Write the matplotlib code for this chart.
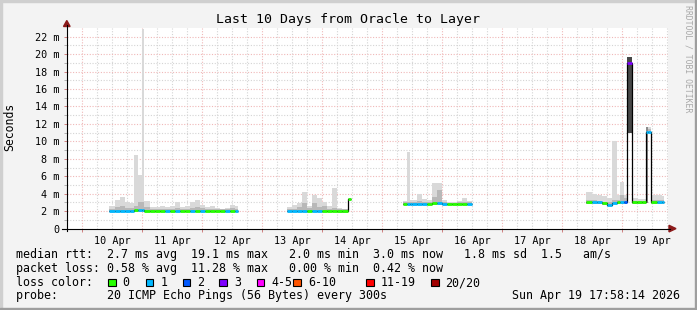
import matplotlib
matplotlib.use("Agg")
import matplotlib.pyplot as plt
from matplotlib.transforms import IdentityTransform
from matplotlib.patches import Polygon, Rectangle
from matplotlib.lines import Line2D
import numpy as np

plt.rcParams['font.family'] = 'DejaVu Sans Mono'

W, H = 697, 310

# smoke columns, start hour counted from 10 Apr 00:00
hour = [10.8, 13, 15, 17, 19, 20.8, 22.4, 23.9, 24.7, 27, 29, 31, 33, 35, 37, 39, 41, 43, 45, 47, 49, 51, 53, 55, 57, 59, 61,
        82, 84, 86, 88, 90, 92, 94, 96, 98, 100, 102, 104, 106.4,
        128.4, 130, 131, 132, 134, 136, 138, 140, 142, 144, 146, 148, 150, 152, 154,
        201.6, 204, 206, 208, 210, 212, 214, 215.2, 216.8, 218, 220, 222, 224, 225.6, 226.4, 227.6, 230, 232]
seg_end = [62.4, 107.6, 156.0, 232.8]

# ms values
p_lo = [1.85, 1.85, 1.85, 1.85, 1.85, 1.85, 1.9, 1.9, 1.85, 1.85, 1.85, 1.85, 1.85, 1.85, 1.85, 1.85, 1.85, 1.85, 1.85, 1.85, 1.85, 1.85, 1.85, 1.85, 1.85, 1.85, 1.85,
        1.85, 1.85, 1.85, 1.85, 1.85, 1.85, 1.85, 1.85, 1.85, 1.85, 1.8, 1.8, 3.3,
        2.65, 2.65, 2.65, 2.65, 2.65, 2.65, 2.65, 2.65, 2.65, 2.65, 2.65, 2.65, 2.65, 2.65, 2.65,
        2.85, 2.85, 2.85, 2.75, 2.55, 2.8, 2.85, 2.85, 2.85, 11.0, 2.85, 2.85, 2.85, 2.9, 11.0, 2.85, 2.85, 2.85]
p_mid = [2.3, 2.5, 2.6, 2.4, 2.4, 2.6, 3.0, 3.0, 2.5, 2.3, 2.3, 2.3, 2.3, 2.3, 2.4, 2.3, 2.3, 2.4, 2.5, 2.4, 2.3, 2.3, 2.25, 2.2, 2.25, 2.35, 2.3,
         2.2, 2.3, 2.5, 2.9, 2.4, 2.9, 2.5, 2.6, 2.3, 2.4, 2.2, 2.2, 3.45,
         3.0, 3.1, 3.0, 3.0, 3.2, 3.1, 3.0, 3.6, 4.4, 3.0, 2.95, 2.95, 3.0, 3.1, 3.0,
         3.3, 3.3, 3.2, 3.1, 3.0, 3.3, 3.3, 3.9, 3.5, 19.7, 3.2, 3.2, 3.2, 11.6, 11.4, 3.3, 3.3, 3.3]
p_hi = [2.6, 3.3, 3.6, 3.0, 2.9, 8.4, 6.1, 22.9, 3.2, 2.5, 2.5, 2.6, 2.5, 2.6, 3.0, 2.5, 2.6, 3.1, 3.3, 2.7, 2.5, 2.6, 2.4, 2.3, 2.4, 2.7, 2.6,
        2.5, 2.7, 2.9, 4.2, 2.6, 3.9, 3.5, 3.0, 2.6, 4.6, 2.4, 2.3, 3.5,
        3.2, 8.8, 3.3, 3.3, 4.0, 3.4, 3.3, 5.2, 5.2, 3.3, 3.1, 3.1, 3.2, 3.5, 3.2,
        4.2, 4.0, 3.8, 3.7, 3.5, 10.0, 3.8, 5.3, 3.9, 19.7, 3.5, 3.4, 3.4, 11.6, 11.6, 3.9, 3.8, 3.7]
median = [2.05, 2.05, 2.05, 2.05, 2.05, 2.1, 2.15, 2.15, 2.05, 2.05, 2.05, 2.05, 2.05, 2.05, 2.05, 2.05, 2.05, 2.05, 2.05, 2.05, 2.05, 2.05, 2.05, 2.05, 2.05, 2.05, 2.05,
          2.05, 2.05, 2.05, 2.05, 2.05, 2.05, 2.05, 2.05, 2.05, 2.05, 2.0, 2.0, 3.4,
          2.85, 2.85, 2.85, 2.85, 2.85, 2.85, 2.85, 2.9, 2.9, 2.85, 2.85, 2.85, 2.85, 2.85, 2.85,
          3.0, 3.0, 3.0, 2.9, 2.7, 2.95, 3.0, 3.05, 3.1, 19.0, 3.0, 3.0, 3.0, 11.1, 11.1, 3.0, 3.0, 3.0]
# lost pings out of 20
loss = [1, 1, 1, 1, 1, 0, 1, 1, 0, 0, 0, 0, 1, 0, 1, 0, 0, 1, 0, 1, 0, 0, 0, 0, 1, 0, 1,
        1, 1, 1, 1, 0, 1, 1, 0, 0, 0, 0, 0, 0,
        0, 1, 1, 1, 1, 1, 0, 0, 1, 1, 0, 0, 0, 0, 1,
        0, 1, 1, 0, 1, 1, 0, 1, 2, 3, 0, 0, 0, 1, 1, 0, 1, 1]
dense = [218, 225.6]

day_labels = ['10 Apr', '11 Apr', '12 Apr', '13 Apr', '14 Apr', '15 Apr', '16 Apr', '17 Apr', '18 Apr', '19 Apr']
loss_names = ['0', '1', '2', '3', '4-5', '6-10', '11-19', '20/20']
loss_colors = ['#26ff00', '#00b8ff', '#0059ff', '#7e00ff', '#ff00ff', '#ff5500', '#ff0000', '#a10000']


def loss_color(n):
    if n <= 3:
        return loss_colors[n]
    if n <= 5:
        return loss_colors[4]
    if n <= 10:
        return loss_colors[5]
    if n <= 19:
        return loss_colors[6]
    return loss_colors[7]


def px(x, y):
    return (x, H - y)


fig = plt.figure(figsize=(W / 100, H / 100), dpi=100)
fig.patch.set_facecolor('#f3f3f3')
ID = IdentityTransform()

ax = fig.add_axes([67 / W, (H - 228.6) / H, 601 / W, 200.6 / H])
ax.set_facecolor('white')
ax.set_xlim(-6, 234.4)
ax.set_ylim(0, 23.0)
for s in ax.spines.values():
    s.set_visible(False)

# grid
red = '#f0b8b8'
gray = '#d4d4d4'
for h in range(-6, 235, 6):
    if h % 24 == 0:
        ax.axvline(h, color=red, lw=0.8, ls=(0, (1, 1.5)), zorder=0.5)
    else:
        ax.axvline(h, color=gray, lw=0.8, ls=(0, (1, 1.5)), zorder=0.4)
for v in range(1, 23):
    if v % 2 == 0:
        ax.axhline(v, color=red, lw=0.8, ls=(0, (1, 1.5)), zorder=0.5)
    else:
        ax.axhline(v, color=gray, lw=0.8, ls=(0, (1, 1.5)), zorder=0.4)

# bin ends
ends = []
for i, h in enumerate(hour):
    nxt = hour[i + 1] if i + 1 < len(hour) else 1e9
    se = min(e for e in seg_end if e > h)
    ends.append(min(nxt, se))

hr = np.array(hour)
en = np.array(ends)
lo = np.array(p_lo)
mid = np.array(p_mid)
hi = np.array(p_hi)
wd = en - hr

mid_col = ['#474747' if h == dense[0] else '#8c8c8c' if h in dense else '#b8b8b8' for h in hour]
ax.bar(hr, hi - lo, bottom=lo, width=wd, align='edge', color='#d9d9d9', linewidth=0, zorder=2)
ax.bar(hr, mid - lo, bottom=lo, width=wd, align='edge', color=mid_col, linewidth=0, zorder=2.1)

# median: black step line per segment, then loss coloured band
med = np.array(median)
start = 0
for i in range(len(hour)):
    if i == len(hour) - 1 or en[i] != hr[i + 1]:
        ax.stairs(med[start:i + 1], np.append(hr[start:i + 1], en[i]), baseline=None,
                  color='black', linewidth=0.9, zorder=3)
        start = i + 1
ax.hlines(med, hr, en, colors=[loss_color(n) for n in loss], linewidth=2.0,
          capstyle='butt', zorder=4)

# ticks
ax.set_yticks(range(0, 23, 2))
ax.set_yticklabels(['0'] + ['%d m' % v for v in range(2, 23, 2)])
ax.set_yticks(range(1, 23, 2), minor=True)
ax.tick_params(axis='y', which='major', length=2, width=0.7, color='#d08080', pad=3.5, labelsize=7.3)
ax.tick_params(axis='y', which='minor', length=2, width=0.7, color='#b0b0b0')
ax.set_xticks(range(0, 234, 24), minor=True)
ax.set_xticks([12 + 24 * k for k in range(10)])
ax.set_xticklabels(day_labels)
ax.tick_params(axis='x', which='major', length=0, pad=5.5, labelsize=7.3)
ax.tick_params(axis='x', which='minor', length=2.5, width=0.7, color='#d08080')

# axis lines with arrows
fig.add_artist(Line2D([62, 670], [H - 228.6, H - 228.6], color='black', lw=0.8, transform=ID))
fig.add_artist(Line2D([66.8, 66.8], [H - 231, H - 25], color='black', lw=0.8, transform=ID))
fig.add_artist(Polygon([px(669, 225.3), px(669, 231.9), px(676, 228.6)], closed=True,
                       color='#8b1a1a', transform=ID))
fig.add_artist(Polygon([px(63.5, 26.5), px(70.1, 26.5), px(66.8, 20.5)], closed=True,
                       color='#8b1a1a', transform=ID))

# frame
fig.add_artist(Rectangle((0, H - 2), W, 2, color='#cfcfcf', transform=ID))
fig.add_artist(Rectangle((0, 0), 2, H, color='#cfcfcf', transform=ID))
fig.add_artist(Rectangle((0, 0), W, 2, color='#9e9e9e', transform=ID))
fig.add_artist(Rectangle((W - 2, 0), 2, H, color='#9e9e9e', transform=ID))

# texts
fig.text(*px(348.5, 23.5), 'Last 10 Days from Oracle to Layer', fontsize=9.5,
         ha='center', va='baseline', transform=ID)
fig.text(*px(10, 127), 'Seconds', fontsize=8.3, rotation=90, ha='center', va='center', transform=ID)
fig.text(*px(688, 59), 'RRDTOOL / TOBI OETIKER', fontsize=5.9, rotation=270, color='#a8a8a8',
         ha='center', va='center', transform=ID)

fs = 8.35
fig.text(*px(16, 258), 'median rtt:  2.7 ms avg  19.1 ms max   2.0 ms min  3.0 ms now   1.8 ms sd  1.5   am/s',
         fontsize=fs, va='baseline', transform=ID)
fig.text(*px(16, 272), 'packet loss: 0.58 % avg  11.28 % max   0.00 % min  0.42 % now',
         fontsize=fs, va='baseline', transform=ID)
fig.text(*px(16, 286), 'loss color:', fontsize=fs, va='baseline', transform=ID)
box_x = [108, 145.7, 182.7, 219.3, 256.7, 293.3, 366, 431]
for bx, name, col in zip(box_x, loss_names, loss_colors):
    fig.add_artist(Rectangle(px(bx, 286), 7.5, 7.5, facecolor=col, edgecolor='black', lw=0.8, transform=ID))
    fig.text(*px(bx + 14.5, 286), name, fontsize=fs, va='baseline', transform=ID)
fig.text(*px(16, 299.5), 'probe:       20 ICMP Echo Pings (56 Bytes) every 300s',
         fontsize=fs, va='baseline', transform=ID)
fig.text(*px(680, 299.5), 'Sun Apr 19 17:58:14 2026', fontsize=fs, ha='right', va='baseline', transform=ID)

fig.savefig('out.png', dpi=100, facecolor=fig.get_facecolor())
